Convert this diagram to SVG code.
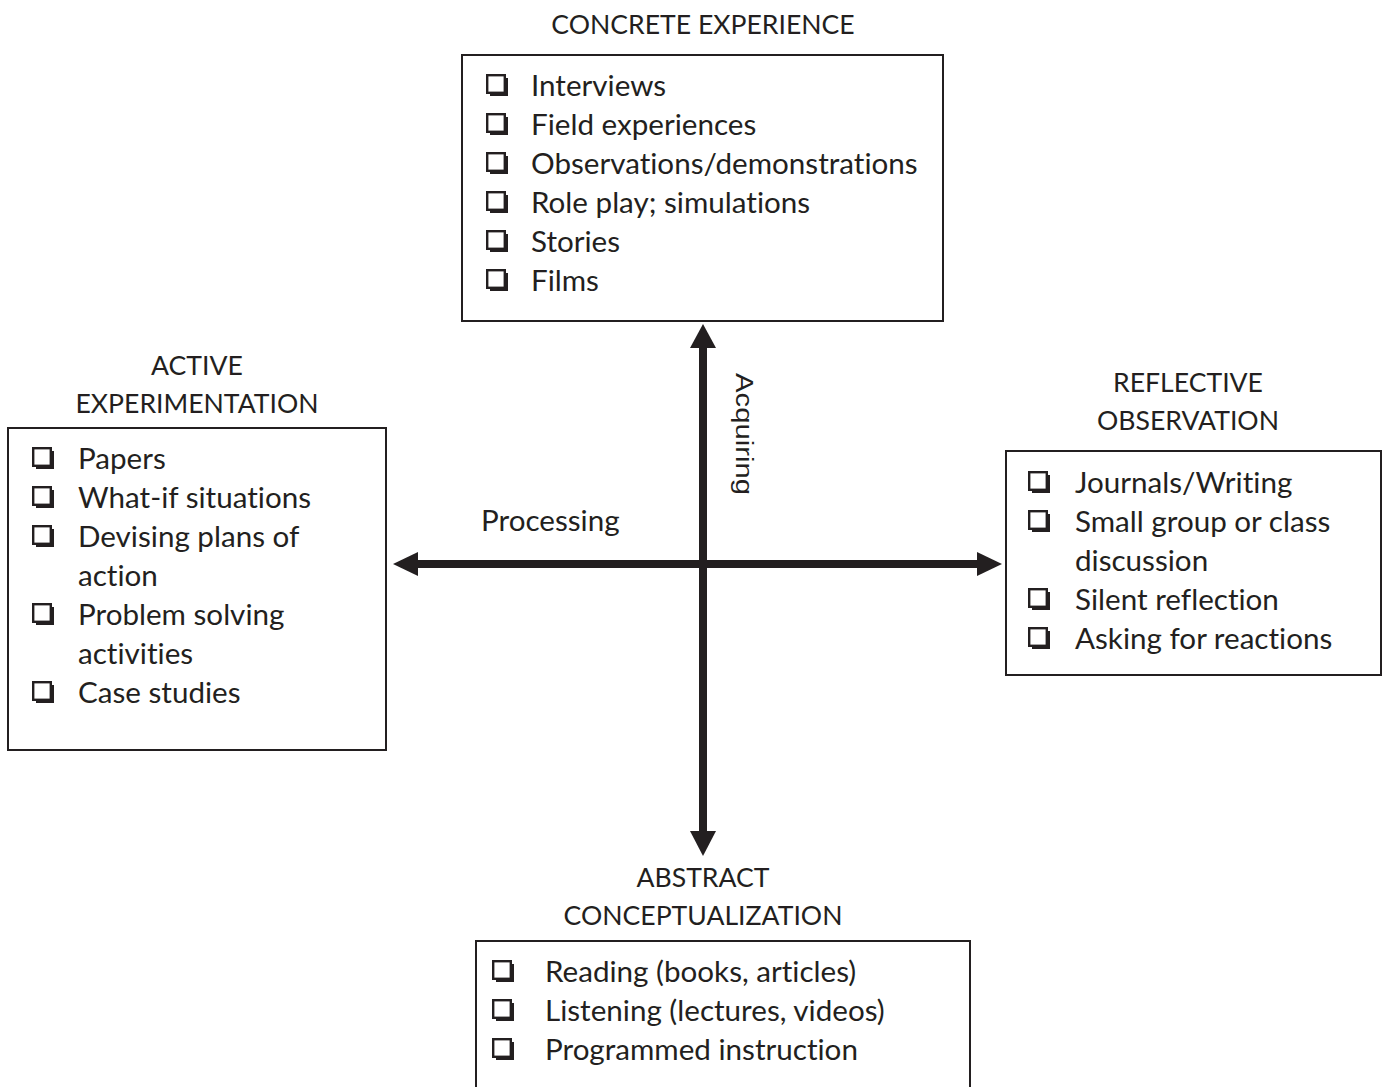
<svg xmlns="http://www.w3.org/2000/svg" width="1382" height="1087" viewBox="0 0 1382 1087">
<style>
.t{font-family:Lato,"Open Sans","Liberation Sans",sans-serif;font-size:29.6px;fill:#231f20;font-variant-ligatures:none}
.h{font-family:Lato,"Open Sans","Liberation Sans",sans-serif;font-size:26.6px;fill:#231f20;text-anchor:middle;font-variant-ligatures:none}
.box{fill:#fff;stroke:#231f20;stroke-width:2}
.ax{stroke:#231f20;stroke-width:8;fill:none}
.ah{fill:#231f20}
.acq{font-family:"Liberation Sans",Arial,sans-serif;font-size:23px;fill:#231f20}
</style>
<defs>
<g id="cb">
<rect x="1.2" y="1.2" width="17.6" height="17.6" fill="none" stroke="#231f20" stroke-width="2.4"/>
<path d="M4 18 H18 V4 H22 V22 H4 Z" fill="#231f20"/>
</g>
</defs>
<rect width="1382" height="1087" fill="#fff"/>

<g id="connectors">
<line class="ax" x1="703" y1="345" x2="703" y2="834"/>
<polygon class="ah" points="703,324 716,348 690,348"/>
<polygon class="ah" points="703,856 716,831 690,831"/>
<line class="ax" x1="415" y1="564" x2="980" y2="564"/>
<polygon class="ah" points="393,564 418,552 418,576"/>
<polygon class="ah" points="1002,564 977,552 977,576"/>
<text class="t" x="481" y="531">Processing</text>
<text class="acq" transform="translate(736,373) rotate(90)" textLength="122" lengthAdjust="spacingAndGlyphs">Acquiring</text>
</g>

<g id="concrete">
<text class="h" x="703" y="34">CONCRETE EXPERIENCE</text>
<rect class="box" x="462" y="55" width="481" height="266"/>
<use href="#cb" x="486" y="74"/><text class="t" x="531" y="96">Interviews</text>
<use href="#cb" x="486" y="113"/><text class="t" x="531" y="135">Field experiences</text>
<use href="#cb" x="486" y="152"/><text class="t" x="531" y="174">Observations/demonstrations</text>
<use href="#cb" x="486" y="191"/><text class="t" x="531" y="213">Role play; simulations</text>
<use href="#cb" x="486" y="230"/><text class="t" x="531" y="252">Stories</text>
<use href="#cb" x="486" y="269"/><text class="t" x="531" y="291">Films</text>
</g>

<g id="active">
<text class="h" x="197" y="375">ACTIVE</text>
<text class="h" x="197" y="413">EXPERIMENTATION</text>
<rect class="box" x="8" y="428" width="378" height="322"/>
<use href="#cb" x="32" y="447"/><text class="t" x="78" y="469">Papers</text>
<use href="#cb" x="32" y="486"/><text class="t" x="78" y="508">What-if situations</text>
<use href="#cb" x="32" y="525"/><text class="t" x="78" y="547">Devising plans of</text>
<text class="t" x="78" y="586">action</text>
<use href="#cb" x="32" y="603"/><text class="t" x="78" y="625">Problem solving</text>
<text class="t" x="78" y="664">activities</text>
<use href="#cb" x="32" y="681"/><text class="t" x="78" y="703">Case studies</text>
</g>

<g id="reflective">
<text class="h" x="1188" y="392">REFLECTIVE</text>
<text class="h" x="1188" y="430">OBSERVATION</text>
<rect class="box" x="1006" y="451" width="375" height="224"/>
<use href="#cb" x="1028" y="471"/><text class="t" x="1075" y="493">Journals/Writing</text>
<use href="#cb" x="1028" y="510"/><text class="t" x="1075" y="532">Small group or class</text>
<text class="t" x="1075" y="571">discussion</text>
<use href="#cb" x="1028" y="588"/><text class="t" x="1075" y="610">Silent reflection</text>
<use href="#cb" x="1028" y="627"/><text class="t" x="1075" y="649">Asking for reactions</text>
</g>

<g id="abstract">
<text class="h" x="703" y="887">ABSTRACT</text>
<text class="h" x="703" y="925">CONCEPTUALIZATION</text>
<rect class="box" x="476" y="941" width="494" height="170"/>
<use href="#cb" x="492" y="960"/><text class="t" x="545" y="982">Reading (books, articles)</text>
<use href="#cb" x="492" y="999"/><text class="t" x="545" y="1021">Listening (lectures, videos)</text>
<use href="#cb" x="492" y="1038"/><text class="t" x="545" y="1060">Programmed instruction</text>
</g>
</svg>
